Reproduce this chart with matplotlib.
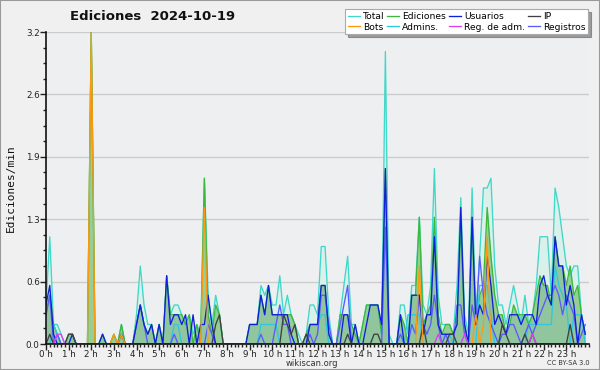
import numpy as np
import matplotlib
matplotlib.use("Agg")
import matplotlib.pyplot as plt
from matplotlib.patches import Rectangle
from matplotlib.ticker import MultipleLocator, FixedLocator

# 10-minute bins, edits per minute (hour rows of 6 values)
total = [
    0.4, 1.1, 0.2, 0.2, 0.1, 0.0,
    0.1, 0.1, 0.0, 0.0, 0.0, 0.0,
    3.2, 0.0, 0.0, 0.1, 0.0, 0.0,
    0.1, 0.0, 0.2, 0.0, 0.0, 0.0,
    0.3, 0.8, 0.4, 0.2, 0.2, 0.0,
    0.2, 0.0, 0.7, 0.3, 0.4, 0.4,
    0.3, 0.2, 0.3, 0.1, 0.2, 0.1,
    1.7, 0.5, 0.2, 0.5, 0.3, 0.0,
    0.0, 0.0, 0.0, 0.0, 0.0, 0.0,
    0.2, 0.2, 0.2, 0.6, 0.5, 0.6,
    0.4, 0.4, 0.7, 0.3, 0.5, 0.3,
    0.2, 0.1, 0.0, 0.1, 0.4, 0.4,
    0.3, 1.0, 1.0, 0.3, 0.0, 0.0,
    0.3, 0.6, 0.9, 0.2, 0.2, 0.0,
    0.2, 0.4, 0.4, 0.4, 0.4, 0.1,
    3.0, 0.1, 0.0, 0.0, 0.4, 0.4,
    0.1, 0.6, 0.6, 1.3, 0.4, 0.3,
    0.6, 1.8, 0.5, 0.2, 0.2, 0.2,
    0.1, 0.6, 1.5, 0.3, 0.1, 1.6,
    0.3, 0.9, 1.6, 1.6, 1.7, 0.8,
    0.4, 0.4, 0.2, 0.4, 0.6, 0.4,
    0.2, 0.5, 0.2, 0.3, 0.6, 1.1,
    1.1, 1.1, 0.5, 1.6, 1.4, 1.1,
    0.8, 0.7, 0.8, 0.8, 0.3, 0.1,
]
ediciones = [
    0.3, 0.5, 0.2, 0.1, 0.0, 0.0,
    0.1, 0.1, 0.0, 0.0, 0.0, 0.0,
    3.2, 0.0, 0.0, 0.1, 0.0, 0.0,
    0.1, 0.0, 0.2, 0.0, 0.0, 0.0,
    0.2, 0.4, 0.2, 0.1, 0.2, 0.0,
    0.2, 0.0, 0.7, 0.3, 0.3, 0.3,
    0.3, 0.2, 0.3, 0.0, 0.2, 0.0,
    1.7, 0.3, 0.1, 0.4, 0.3, 0.0,
    0.0, 0.0, 0.0, 0.0, 0.0, 0.0,
    0.2, 0.2, 0.2, 0.5, 0.3, 0.6,
    0.3, 0.3, 0.3, 0.3, 0.3, 0.3,
    0.2, 0.0, 0.0, 0.1, 0.2, 0.2,
    0.2, 0.6, 0.6, 0.1, 0.0, 0.0,
    0.3, 0.3, 0.3, 0.2, 0.1, 0.0,
    0.2, 0.4, 0.4, 0.4, 0.4, 0.1,
    1.8, 0.0, 0.0, 0.0, 0.3, 0.2,
    0.0, 0.5, 0.5, 1.3, 0.2, 0.3,
    0.4, 1.3, 0.3, 0.1, 0.2, 0.2,
    0.1, 0.2, 1.2, 0.2, 0.0, 1.3,
    0.2, 0.5, 0.6, 1.4, 0.9, 0.5,
    0.3, 0.3, 0.1, 0.2, 0.4, 0.3,
    0.3, 0.3, 0.2, 0.3, 0.5, 0.7,
    0.6, 0.6, 0.4, 1.1, 0.8, 0.8,
    0.6, 0.8, 0.5, 0.6, 0.3, 0.1,
]
usuarios = [
    0.4, 0.6, 0.1, 0.0, 0.0, 0.0,
    0.0, 0.1, 0.0, 0.0, 0.0, 0.0,
    0.0, 0.0, 0.0, 0.1, 0.0, 0.0,
    0.0, 0.0, 0.1, 0.0, 0.0, 0.0,
    0.2, 0.4, 0.2, 0.1, 0.2, 0.0,
    0.2, 0.0, 0.7, 0.2, 0.3, 0.3,
    0.2, 0.3, 0.0, 0.3, 0.0, 0.2,
    0.2, 0.5, 0.2, 0.0, 0.0, 0.0,
    0.0, 0.0, 0.0, 0.0, 0.0, 0.0,
    0.2, 0.2, 0.2, 0.5, 0.3, 0.6,
    0.3, 0.3, 0.3, 0.3, 0.3, 0.1,
    0.0, 0.0, 0.0, 0.0, 0.2, 0.2,
    0.2, 0.6, 0.6, 0.1, 0.0, 0.0,
    0.0, 0.3, 0.3, 0.0, 0.2, 0.0,
    0.0, 0.2, 0.4, 0.4, 0.4, 0.2,
    1.8, 0.0, 0.0, 0.0, 0.3, 0.0,
    0.0, 0.5, 0.5, 0.5, 0.1, 0.3,
    0.3, 1.1, 0.2, 0.1, 0.1, 0.1,
    0.1, 0.2, 1.4, 0.2, 0.0, 1.3,
    0.2, 0.4, 0.3, 0.9, 0.6, 0.2,
    0.3, 0.2, 0.1, 0.3, 0.3, 0.3,
    0.2, 0.3, 0.3, 0.3, 0.2, 0.6,
    0.7, 0.5, 0.4, 1.1, 0.8, 0.8,
    0.4, 0.6, 0.4, 0.0, 0.3, 0.1,
]
registros = [
    0.3, 0.5, 0.0, 0.1, 0.0, 0.0,
    0.0, 0.0, 0.0, 0.0, 0.0, 0.0,
    0.0, 0.0, 0.0, 0.0, 0.0, 0.0,
    0.0, 0.0, 0.0, 0.0, 0.0, 0.0,
    0.2, 0.4, 0.2, 0.0, 0.0, 0.0,
    0.0, 0.0, 0.0, 0.0, 0.1, 0.0,
    0.0, 0.0, 0.0, 0.0, 0.0, 0.0,
    0.0, 0.2, 0.1, 0.0, 0.0, 0.0,
    0.0, 0.0, 0.0, 0.0, 0.0, 0.0,
    0.0, 0.0, 0.0, 0.1, 0.0, 0.0,
    0.0, 0.2, 0.4, 0.2, 0.2, 0.0,
    0.0, 0.0, 0.0, 0.0, 0.1, 0.0,
    0.1, 0.5, 0.5, 0.2, 0.0, 0.0,
    0.2, 0.4, 0.6, 0.0, 0.0, 0.0,
    0.0, 0.0, 0.0, 0.0, 0.0, 0.0,
    1.2, 0.0, 0.0, 0.0, 0.1, 0.0,
    0.0, 0.2, 0.1, 0.5, 0.2, 0.1,
    0.2, 0.5, 0.2, 0.0, 0.1, 0.0,
    0.0, 0.4, 0.4, 0.1, 0.0, 0.4,
    0.2, 0.9, 0.5, 0.3, 0.2, 0.1,
    0.0, 0.1, 0.1, 0.2, 0.2, 0.1,
    0.0, 0.1, 0.2, 0.1, 0.2, 0.3,
    0.4, 0.5, 0.5, 0.6, 0.5, 0.3,
    0.5, 0.4, 0.3, 0.0, 0.1, 0.2,
]
ip = [
    0.0, 0.1, 0.0, 0.0, 0.0, 0.0,
    0.1, 0.1, 0.0, 0.0, 0.0, 0.0,
    0.0, 0.0, 0.0, 0.0, 0.0, 0.0,
    0.0, 0.0, 0.0, 0.0, 0.0, 0.0,
    0.0, 0.0, 0.0, 0.0, 0.0, 0.0,
    0.0, 0.0, 0.0, 0.0, 0.0, 0.0,
    0.0, 0.0, 0.0, 0.0, 0.0, 0.0,
    0.0, 0.0, 0.0, 0.2, 0.3, 0.0,
    0.0, 0.0, 0.0, 0.0, 0.0, 0.0,
    0.0, 0.0, 0.0, 0.0, 0.0, 0.0,
    0.0, 0.0, 0.0, 0.3, 0.2, 0.1,
    0.2, 0.0, 0.0, 0.1, 0.0, 0.0,
    0.0, 0.0, 0.0, 0.0, 0.0, 0.0,
    0.0, 0.0, 0.1, 0.0, 0.0, 0.0,
    0.0, 0.0, 0.0, 0.1, 0.1, 0.0,
    0.0, 0.0, 0.0, 0.0, 0.0, 0.0,
    0.0, 0.0, 0.0, 0.0, 0.2, 0.0,
    0.0, 0.0, 0.0, 0.0, 0.0, 0.1,
    0.1, 0.0, 0.0, 0.0, 0.0, 0.0,
    0.0, 0.0, 0.0, 0.0, 0.0, 0.0,
    0.0, 0.2, 0.1, 0.0, 0.0, 0.0,
    0.0, 0.1, 0.0, 0.1, 0.0, 0.0,
    0.0, 0.0, 0.0, 0.0, 0.0, 0.0,
    0.0, 0.2, 0.0, 0.0, 0.0, 0.0,
]
bots = [0.0] * 144
for i, v in [(12, 3.2), (18, 0.1), (20, 0.1), (42, 1.4), (99, 0.8),
             (114, 0.3), (116, 0.2), (117, 1.1)]:
    bots[i] = v
admins = [0.0] * 144
for i, v in [(2, 0.2), (3, 0.1), (34, 0.2), (35, 0.2), (57, 0.2), (58, 0.2),
             (59, 0.2), (60, 0.2), (61, 0.2), (70, 0.2), (71, 0.2), (72, 0.2),
             (73, 0.3), (74, 0.3), (96, 0.3), (97, 0.3), (98, 0.3), (99, 0.3),
             (106, 0.1), (107, 0.1), (115, 0.6), (116, 0.6), (117, 0.6),
             (118, 0.3), (128, 0.2), (129, 0.2), (130, 0.2), (131, 0.2),
             (132, 0.2), (133, 0.2), (134, 0.2), (135, 0.8), (136, 0.6),
             (137, 0.5), (138, 0.4), (140, 0.3), (141, 0.3), (142, 0.3)]:
    admins[i] = v
regadm = [0.0] * 144
for i, v in [(3, 0.1), (4, 0.1), (104, 0.1), (111, 0.1), (129, 0.1)]:
    regadm[i] = v

hour_labels = [f"{h} h" for h in range(24)]
ytick_vals = [0, 0.64, 1.28, 1.92, 2.56, 3.2]

x = np.arange(144) / 6.0

plt.rcParams['font.family'] = ['DejaVu Sans']
fig = plt.figure(figsize=(6, 3.7), dpi=100, facecolor='#f0f0f0')
ax = fig.add_axes([46/600, 1-344/370, 543/600, 312/370])
ax.set_facecolor('#eeeff1')

ax.fill_between(x, total, 0, color='#d9f1ea', lw=0, zorder=1)
ax.fill_between(x, ediciones, 0, color='#97cd97', lw=0, zorder=2)
ax.fill_between(x, usuarios, 0, color='#7aaab6', alpha=0.22, lw=0, zorder=3)

lw = 0.95
l_total, = ax.plot(x, total, color='#40d8c8', lw=lw, zorder=5, label='Total')
l_ed, = ax.plot(x, ediciones, color='#3cb83c', lw=lw, zorder=5, label='Ediciones')
l_adm, = ax.plot(x, admins, color='#30c8e0', lw=lw, zorder=6, label='Admins.')
l_reg, = ax.plot(x, registros, color='#5a5aff', lw=lw, zorder=6, label='Registros')
l_usu, = ax.plot(x, usuarios, color='#1020d8', lw=lw, zorder=7, label='Usuarios')
l_ip, = ax.plot(x, ip, color='#404040', lw=lw, zorder=7, label='IP')
l_bots, = ax.plot(x, bots, color='#ff9a10', lw=lw, zorder=8, label='Bots')
l_ra, = ax.plot(x, regadm, color='#dd40ee', lw=lw, zorder=8, label='Reg. de adm.')

ax.set_xlim(0, 24)
ax.set_ylim(0, 3.2)
ax.set_xticks(range(24))
ax.set_xticklabels(hour_labels)
ax.xaxis.set_minor_locator(MultipleLocator(1/6))
ax.yaxis.set_major_locator(FixedLocator(ytick_vals))
ax.set_yticklabels([f"{v:.1f}" for v in ytick_vals])
ax.yaxis.set_minor_locator(MultipleLocator(0.16))
ax.tick_params(axis='both', which='major', labelsize=6.3, colors='#222222',
               length=4, width=1, pad=0.5)
ax.tick_params(axis='both', which='minor', length=2.5, width=1, color='#222222')
ax.grid(axis='y', which='major', color='#cccccc', lw=1, zorder=0)
ax.set_axisbelow(True)
for s in ['top', 'right']:
    ax.spines[s].set_visible(False)
for s in ['left', 'bottom']:
    ax.spines[s].set_color('#111111')
    ax.spines[s].set_linewidth(1.2)
    ax.spines[s].set_zorder(10)

ax.set_ylabel('Ediciones/min', family='DejaVu Sans Mono', fontsize=8,
              labelpad=7, color='#111111')

fig.text(153/600, 1-17/370, 'Ediciones  2024-10-19', ha='center', va='center',
         fontsize=9.5, fontweight='bold', color='#111111')
fig.text(312/600, 1-363/370, 'wikiscan.org', ha='center', va='center',
         fontsize=6, color='#333333')
fig.text(590/600, 1-363/370, 'CC BY-SA 3.0', ha='right', va='center',
         fontsize=4.8, color='#333333')

handles = [l_total, l_bots, l_ed, l_adm, l_usu, l_ra, l_ip, l_reg]
leg = fig.legend(handles=handles, labels=[h.get_label() for h in handles],
                 ncol=4, loc='upper right', bbox_to_anchor=(588/600, 1-9/370),
                 fontsize=6.6, frameon=True, fancybox=False, shadow=True,
                 handlelength=1.3, handletextpad=0.35, columnspacing=0.3,
                 labelspacing=0.2, borderpad=0.3, borderaxespad=0)
leg.get_frame().set_facecolor('white')
leg.get_frame().set_edgecolor('#aaaaaa')
leg.get_frame().set_linewidth(0.8)

fig.patches.append(Rectangle((0, 0), 1, 1, transform=fig.transFigure,
                             fill=False, edgecolor='#999999', lw=1.5))

fig.savefig('out.png', dpi=100, facecolor=fig.get_facecolor())
